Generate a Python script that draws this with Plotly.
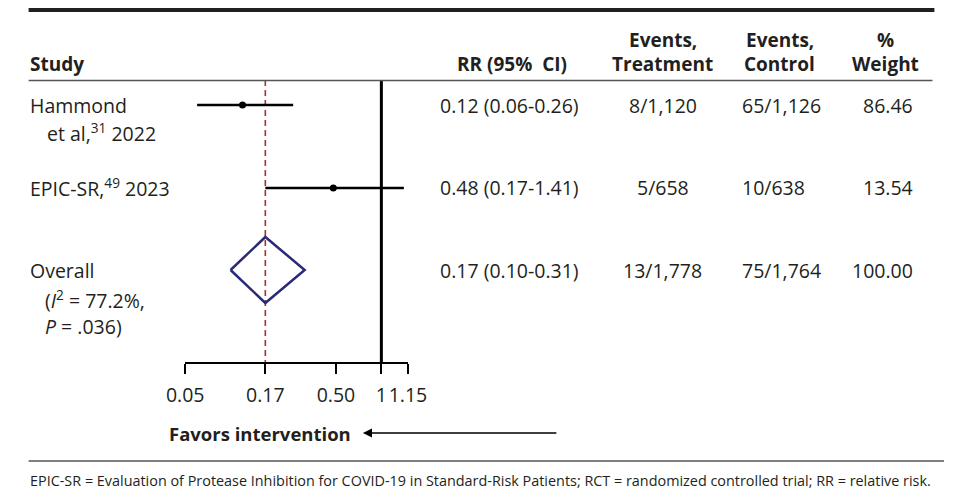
import plotly.graph_objects as go
import math

W, H = 963, 499

# ---------------- data ----------------
studies = ["Hammond", "EPIC-SR"]
study_label_1 = ["Hammond", "EPIC-SR,<sup>49</sup> 2023"]
study_label_2 = ["et al,<sup>31</sup> 2022", ""]
rr = [0.12, 0.48]
ci_low = [0.06, 0.17]
ci_high = [0.26, 1.41]
rr_text = ["0.12 (0.06-0.26)", "0.48 (0.17-1.41)"]
events_treat = ["8/1,120", "5/658"]
events_ctrl = ["65/1,126", "10/638"]
weight = ["86.46", "13.54"]

overall_rr = 0.17
overall_low = 0.10
overall_high = 0.31
overall_text = "0.17 (0.10-0.31)"
overall_treat = "13/1,778"
overall_ctrl = "75/1,764"
overall_weight = "100.00"
overall_het = "(<i>I</i><sup>2</sup> = 77.2%,<br><i>P</i> = .036)"

tick_vals = [0.05, 0.17, 0.50, 1.0, 1.5]
tick_text = ["0.05", "0.17", "0.50", "1", "1.15"]
null_value = 1.0

footnote = ("EPIC-SR = Evaluation of Protease Inhibition for COVID-19 in Standard-Risk Patients; "
            "RCT = randomized controlled trial; RR = relative risk.")

# ---------------- layout helpers ----------------
FONT = "Open Sans"
TXT = "#231f20"
BODY = 19.5
HEAD = 19
TICK = 19.5
FOOT = 14.4

def px(x):
    return x / W

def py(y):
    return 1 - y / H

row_y = [105, 188, 270]   # pixel rows (layout)
PX_PER_DECADE = 157
plot_left = 173
plot_right = plot_left + PX_PER_DECADE * (math.log10(tick_vals[-1]) - math.log10(tick_vals[0]))
plot_top, plot_bottom = 80, 362
diamond_half = 33

fig = go.Figure()

# null line and overall dashed line
fig.add_trace(go.Scatter(x=[null_value, null_value], y=[plot_top, plot_bottom], mode="lines",
                         line=dict(color="black", width=3), hoverinfo="skip"))
fig.add_trace(go.Scatter(x=[overall_rr, overall_rr], y=[plot_top, plot_bottom], mode="lines",
                         line=dict(color="#a8302f", width=1.6, dash="6px,4px"), hoverinfo="skip"))

# study CIs
for i in range(len(studies)):
    fig.add_trace(go.Scatter(x=[ci_low[i], ci_high[i]], y=[row_y[i], row_y[i]], mode="lines",
                             line=dict(color="black", width=2.5), hoverinfo="skip"))
    fig.add_trace(go.Scatter(x=[rr[i]], y=[row_y[i]], mode="markers",
                             marker=dict(color="black", size=7, symbol="circle"), hoverinfo="skip"))

# overall diamond
yc = row_y[2]
fig.add_trace(go.Scatter(
    x=[overall_low, overall_rr, overall_high, overall_rr, overall_low],
    y=[yc, yc - diamond_half, yc, yc + diamond_half, yc],
    mode="lines", line=dict(color="#2b2a78", width=2.5), hoverinfo="skip"))

fig.update_layout(
    width=W, height=H, autosize=False,
    margin=dict(l=0, r=0, t=0, b=0),
    paper_bgcolor="white", plot_bgcolor="white",
    showlegend=False,
    font=dict(family=FONT, color=TXT, size=BODY),
    xaxis=dict(type="log", domain=[px(plot_left), px(plot_right)],
               range=[math.log10(tick_vals[0]), math.log10(tick_vals[-1])],
               tickvals=tick_vals, ticktext=tick_text, tickangle=0,
               showline=True, linecolor="black", linewidth=2,
               ticks="outside", ticklen=10, tickwidth=1.5, tickcolor="black",
               ticklabelstandoff=5,
               tickfont=dict(size=TICK, family=FONT, color=TXT),
               showgrid=False, zeroline=False, fixedrange=True),
    yaxis=dict(domain=[py(plot_bottom), py(plot_top)], range=[plot_bottom, plot_top],
               visible=False, showgrid=False, zeroline=False, fixedrange=True),
)

ann = []

def text(x, y, s, anchor="left", bold=False, size=BODY, align="left"):
    ann.append(dict(x=px(x), y=py(y), xref="paper", yref="paper", text=("<b>%s</b>" % s) if bold else s,
                    showarrow=False, xanchor=anchor, yanchor="middle", borderpad=0, align=align,
                    font=dict(size=size, family=FONT, color=TXT)))

# headers
text(10, 64, "Study", bold=True, size=HEAD)
text(513, 64, "RR (95%  CI)", anchor="center", bold=True, size=HEAD)
text(670, 40, "Events,", anchor="center", bold=True, size=HEAD)
text(670, 64, "Treatment", anchor="center", bold=True, size=HEAD)
text(792, 40, "Events,", anchor="center", bold=True, size=HEAD)
text(792, 64, "Control", anchor="center", bold=True, size=HEAD)
text(902, 40, "%", anchor="center", bold=True, size=HEAD)
text(902, 64, "Weight", anchor="center", bold=True, size=HEAD)

# study rows
for i in range(len(studies)):
    text(10, row_y[i], study_label_1[i])
    if study_label_2[i]:
        text(28, row_y[i] + 28, study_label_2[i])
    text(437, row_y[i], rr_text[i])
    text(670, row_y[i], events_treat[i], anchor="center")
    text(752, row_y[i], events_ctrl[i])
    text(932, row_y[i], weight[i], anchor="right")

# overall row
text(10, row_y[2], "Overall")
text(26, row_y[2] + 42, overall_het)
text(437, row_y[2], overall_text)
text(670, row_y[2], overall_treat, anchor="center")
text(752, row_y[2], overall_ctrl)
text(932, row_y[2], overall_weight, anchor="right")

# favors label + arrow
text(155, 433, "Favors intervention", bold=True, size=18.5)
ann.append(dict(x=px(358), y=py(433), xref="paper", yref="paper", ax=195, ay=0,
                axref="pixel", ayref="pixel", showarrow=True, arrowhead=2, arrowsize=1.3,
                arrowwidth=1.4, arrowcolor="black", text=""))

# footnote
ann.append(dict(x=px(10), y=py(480), xref="paper", yref="paper", text=footnote, showarrow=False,
                xanchor="left", yanchor="middle", borderpad=0,
                font=dict(size=FOOT, family=FONT, color=TXT)))

fig.update_layout(annotations=ann)

# rules
shapes = [
    dict(type="line", xref="paper", yref="paper", x0=px(10), x1=px(953), y0=py(10), y1=py(10),
         line=dict(color="#231f20", width=4)),
    dict(type="line", xref="paper", yref="paper", x0=px(10), x1=px(951), y0=py(80.5), y1=py(80.5),
         line=dict(color="#555555", width=1.5)),
    dict(type="line", xref="paper", yref="paper", x0=px(10), x1=px(963), y0=py(461), y1=py(461),
         line=dict(color="#555555", width=1.5)),
]
fig.update_layout(shapes=shapes)

fig.write_html("out.html")
